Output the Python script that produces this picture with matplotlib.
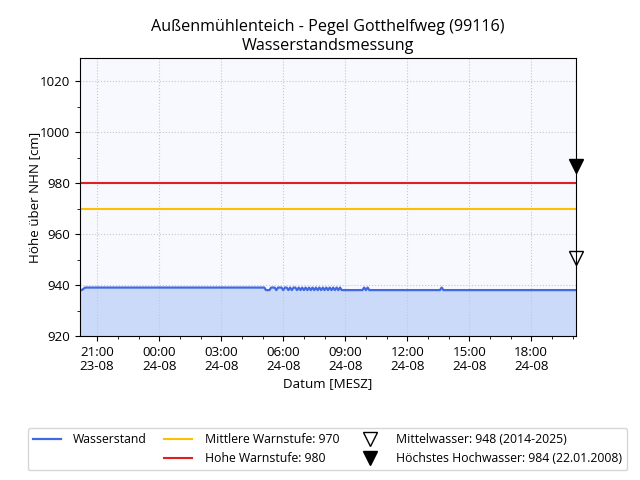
import numpy as np
import pandas as pd
import matplotlib
matplotlib.use('Agg')
import matplotlib.pyplot as plt
import matplotlib.dates as mdates
from matplotlib.transforms import ScaledTranslation

plt.rcParams['font.family'] = ['Open Sans', 'DejaVu Sans']
plt.rcParams['font.size'] = 9.6

# Messwerte (Zeitpunkt, Wasserstand cm ü. NHN)
zeiten = ['2025-08-23 20:10', '2025-08-23 20:15', '2025-08-23 20:25',
          '2025-08-24 05:05', '2025-08-24 05:10', '2025-08-24 05:20', '2025-08-24 05:25',
          '2025-08-24 05:35', '2025-08-24 05:40', '2025-08-24 05:45', '2025-08-24 05:55',
          '2025-08-24 06:00', '2025-08-24 06:05', '2025-08-24 06:10', '2025-08-24 06:15',
          '2025-08-24 06:20', '2025-08-24 06:25', '2025-08-24 06:30', '2025-08-24 06:35',
          '2025-08-24 06:40', '2025-08-24 06:45', '2025-08-24 06:50', '2025-08-24 06:55',
          '2025-08-24 07:00', '2025-08-24 07:05', '2025-08-24 07:10', '2025-08-24 07:15',
          '2025-08-24 07:20', '2025-08-24 07:25', '2025-08-24 07:30', '2025-08-24 07:35',
          '2025-08-24 07:40', '2025-08-24 07:45', '2025-08-24 07:50', '2025-08-24 07:55',
          '2025-08-24 08:00', '2025-08-24 08:05', '2025-08-24 08:10', '2025-08-24 08:15',
          '2025-08-24 08:20', '2025-08-24 08:25', '2025-08-24 08:30', '2025-08-24 08:35',
          '2025-08-24 08:40', '2025-08-24 08:45', '2025-08-24 08:50',
          '2025-08-24 09:50', '2025-08-24 09:55', '2025-08-24 10:00', '2025-08-24 10:05',
          '2025-08-24 10:10',
          '2025-08-24 13:35', '2025-08-24 13:40', '2025-08-24 13:45',
          '2025-08-24 20:10']
pegel = [938, 938, 939,
         939, 938, 938, 939,
         939, 938, 939, 939,
         938, 939, 939, 938,
         939, 938, 939, 939,
         938, 939, 938, 939,
         938, 939, 938, 939,
         938, 939, 938, 939,
         938, 939, 938, 939,
         938, 939, 938, 939,
         938, 939, 938, 939,
         938, 939, 938,
         938, 939, 938, 939,
         938,
         938, 939, 938,
         938]

warn_mittel = 970
warn_hoch = 980
mw = 948
hhw = 984

t = pd.to_datetime(zeiten)
y = np.array(pegel)

fig, ax = plt.subplots(figsize=(6.4, 4.8), dpi=100)
fig.subplots_adjust(left=0.125, right=0.9, top=0.879, bottom=0.3)
ax.set_facecolor('#f8f8ff')

ax.fill_between(t, 920, y, color='cornflowerblue', alpha=0.3, linewidth=0)
ax.plot(t, y, color='royalblue', lw=1.6, label='Wasserstand')
ax.plot([], [], color='none', label=' ')
ax.axhline(warn_mittel, color='#ffbf00', lw=1.5, label='Mittlere Warnstufe: %d' % warn_mittel)
ax.axhline(warn_hoch, color='#e02020', lw=1.5, label='Hohe Warnstufe: %d' % warn_hoch)

off = ScaledTranslation(0, 7 / 100, fig.dpi_scale_trans)
ax.plot([t[-1]], [mw], marker='v', ms=10, mfc='none', mec='black', ls='none',
        clip_on=False, transform=ax.transData + off, label='Mittelwasser: %d (2014-2025)' % mw)
ax.plot([t[-1]], [hhw], marker='v', ms=10, color='black', ls='none',
        clip_on=False, transform=ax.transData + off, label='Höchstes Hochwasser: %d (22.01.2008)' % hhw)

ax.set_xlim(t[0], t[-1])
ax.set_ylim(920, 1029)
ax.yaxis.set_major_locator(plt.MultipleLocator(20))
ax.yaxis.set_minor_locator(plt.MultipleLocator(10))
ax.xaxis.set_major_locator(mdates.HourLocator(byhour=range(0, 24, 3)))
ax.xaxis.set_minor_locator(mdates.HourLocator())
ax.xaxis.set_major_formatter(mdates.DateFormatter('%H:%M\n%d-%m'))
for lbl in ax.get_xticklabels():
    lbl.set_linespacing(1.1)
ax.grid(True, which='major', ls=':', color='#c8c8c8', lw=0.8)

ax.set_title('Außenmühlenteich - Pegel Gotthelfweg (99116)\nWasserstandsmessung', fontsize=11.6)
ax.set_xlabel('Datum [MESZ]', labelpad=3)
ax.set_ylabel('Höhe über NHN [cm]', labelpad=-1)

fig.legend(loc='lower center', bbox_to_anchor=(0.512, 0.008), ncol=3, fontsize=8.8,
           handlelength=2.3, handletextpad=1.0, columnspacing=1.4)

fig.savefig('out.png', dpi=100)
